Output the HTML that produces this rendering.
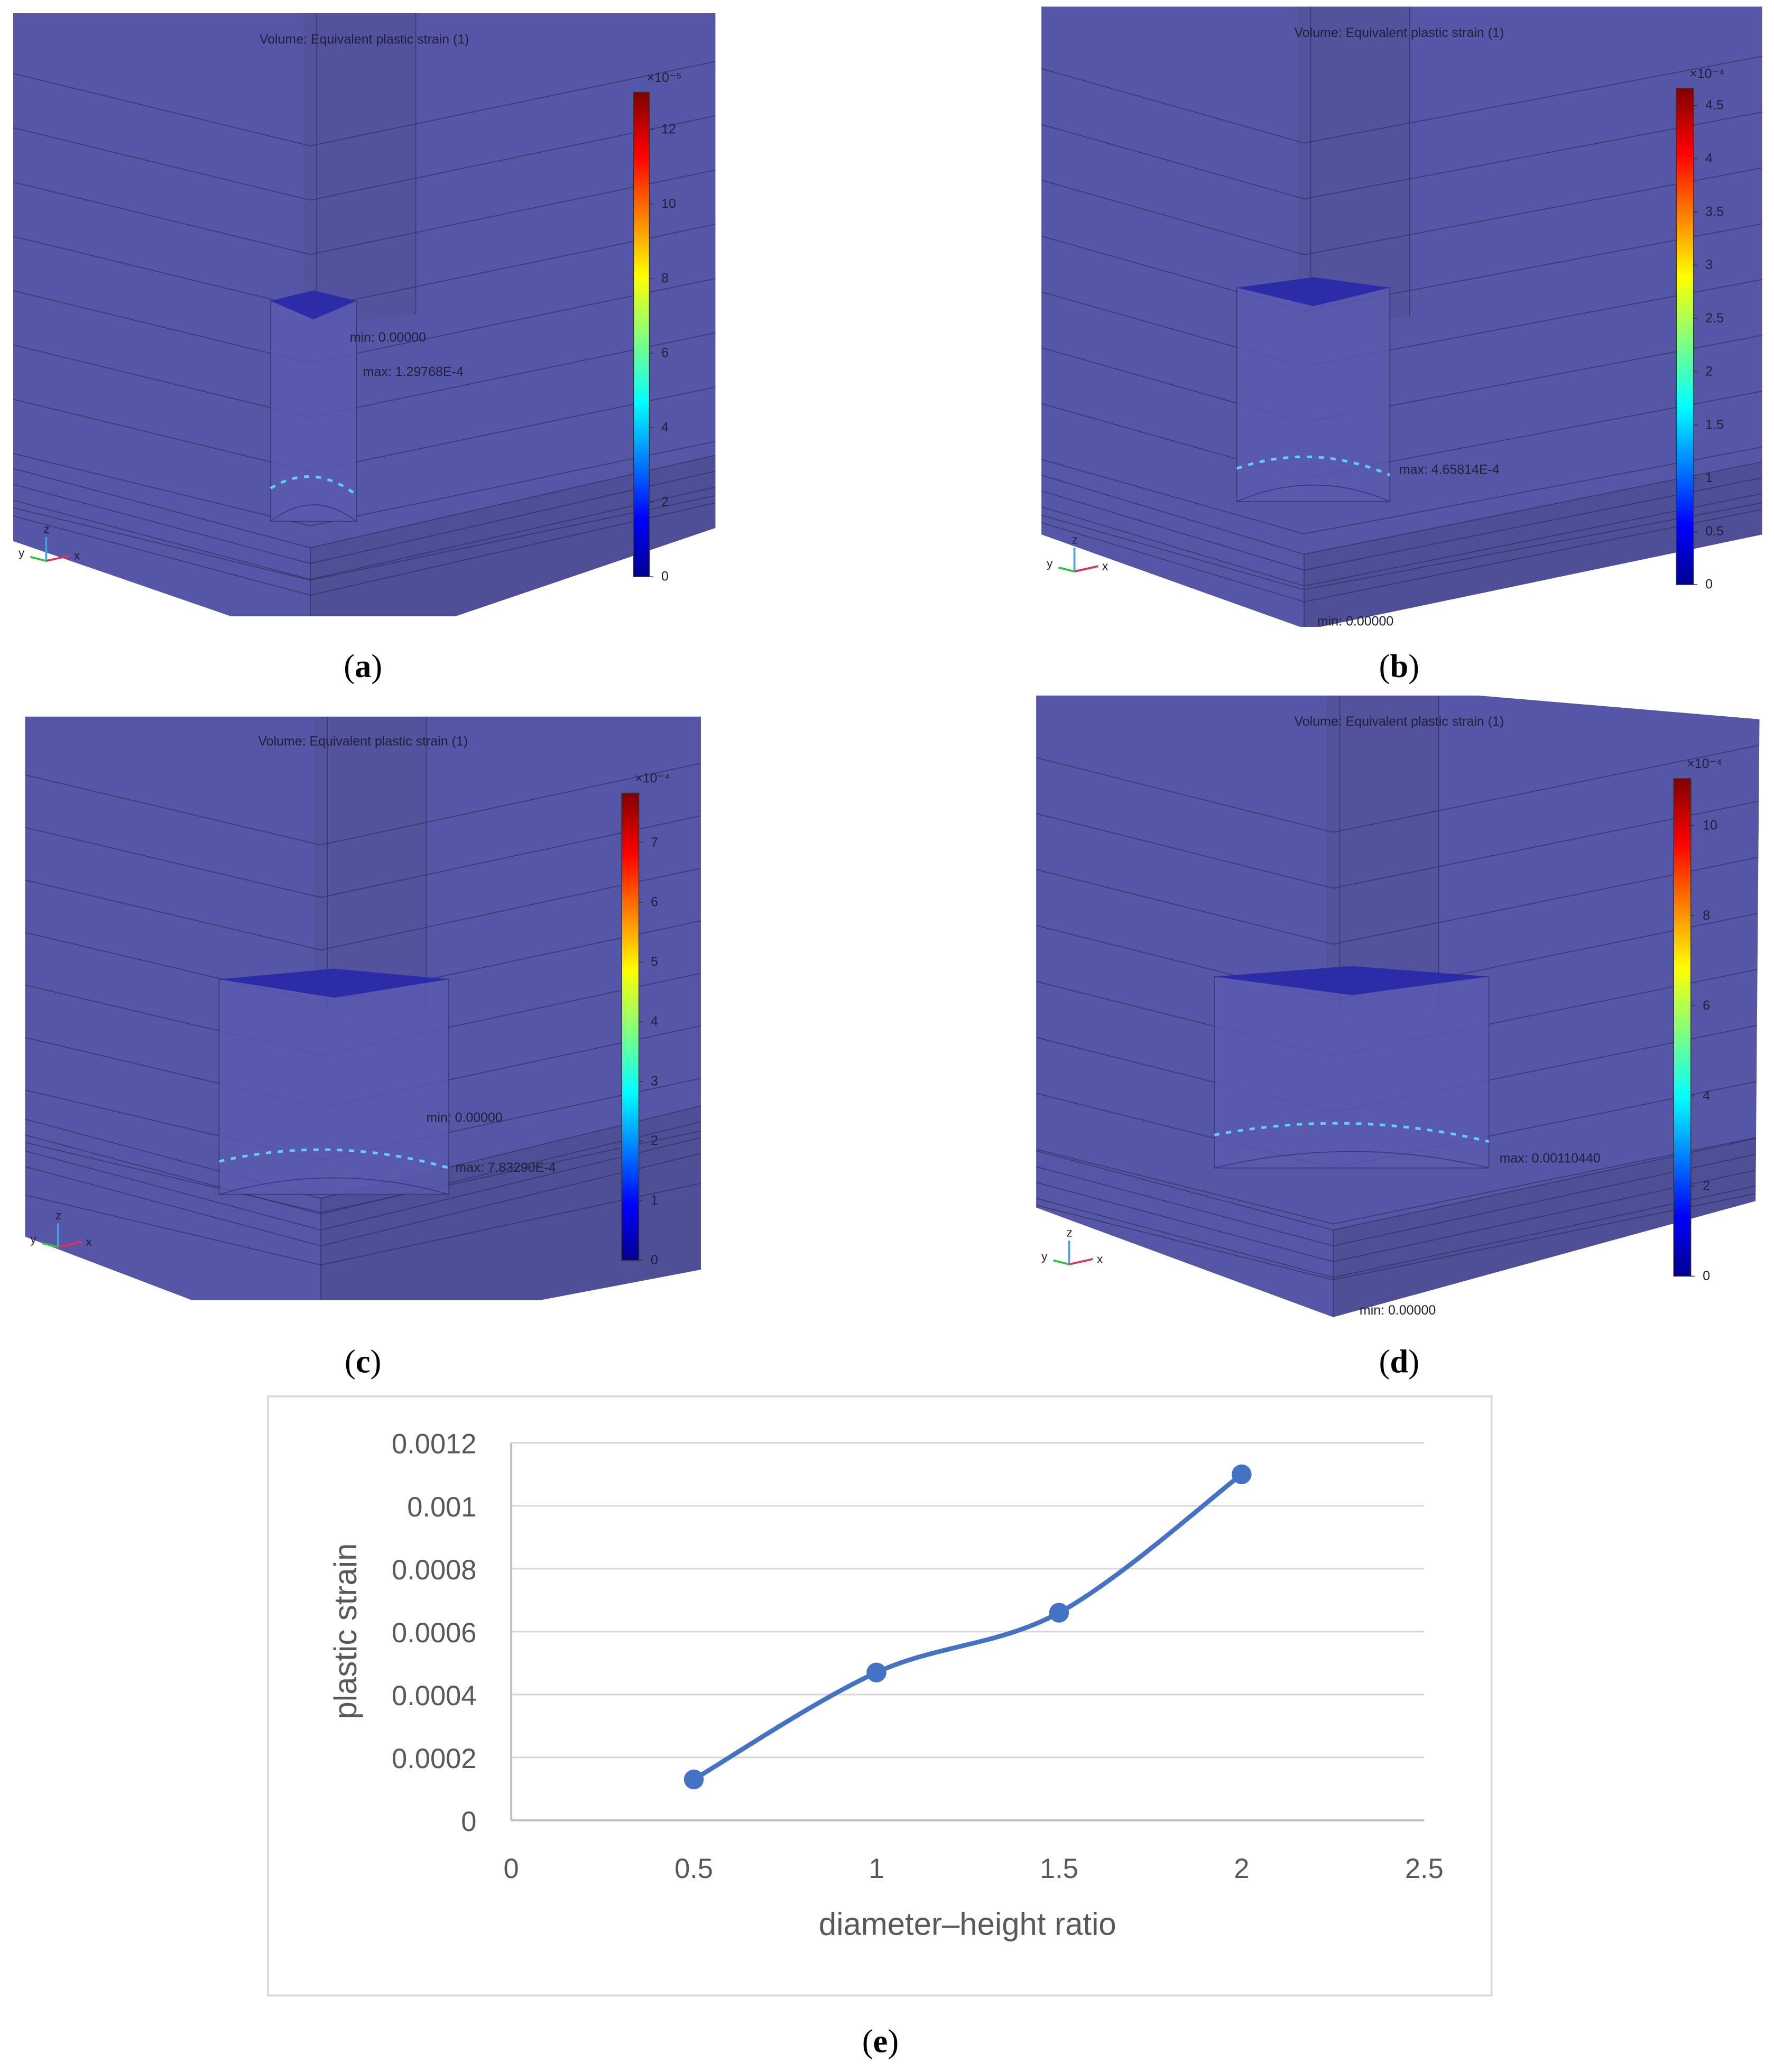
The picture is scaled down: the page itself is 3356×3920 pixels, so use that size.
<!DOCTYPE html>
<html><head><meta charset="utf-8"><style>
html,body{margin:0;padding:0;background:#fff}
svg{display:block}
text{font-family:"Liberation Sans",sans-serif}
text.serif{font-family:"Liberation Serif",serif}
</style></head><body>
<svg id="root" width="3356" height="3920" viewBox="0 0 1344 1570" preserveAspectRatio="none" xmlns="http://www.w3.org/2000/svg">
<defs>
<linearGradient id="jet" x1="0" y1="1" x2="0" y2="0">
<stop offset="0" stop-color="#00008f"/><stop offset="0.12" stop-color="#0000ff"/><stop offset="0.36" stop-color="#00ffff"/><stop offset="0.62" stop-color="#ffff00"/><stop offset="0.87" stop-color="#ff0000"/><stop offset="1" stop-color="#800000"/>
</linearGradient>
</defs>
<g id="panels"></g>
<g id="chart"></g>
</svg>
<script>
var NS='http://www.w3.org/2000/svg';
function mk(tag,attrs,parent,txt){var e=document.createElementNS(NS,tag);for(var k in attrs)e.setAttribute(k,attrs[k]);if(txt!==undefined)e.textContent=txt;parent.appendChild(e);return e;}
var P=document.getElementById('panels');
var panels=[
 {id:'a',x0:10,y0:10,x1:542,y1:467,poly:'10,10 542,10 542,400 345,467 175,467 10,410',corner:[235,415],cb:[480,70,492,437],ticks:['0','2','4','6','8','10','12'],tmax:13,exp:'×10⁻⁵',lab:[275,505],title:[276,30],cyl:[205,228,270,395],mx:'max: 1.29768E-4',mxp:[275,285],mn:'min: 0.00000',mnp:[265,259]},
 {id:'b',x0:789,y0:5,x1:1335,y1:475,poly:'789,5 1335,5 1335,405 1000,475 985,475 789,405',corner:[988,420],cb:[1270,67,1283,443],ticks:['0','0.5','1','1.5','2','2.5','3','3.5','4','4.5'],tmax:4.66,exp:'×10⁻⁴',lab:[1060,505],title:[1060,25],cyl:[937,218,1053,380],mx:'max: 4.65814E-4',mxp:[1060,359],mn:'min: 0.00000',mnp:[998,474]},
 {id:'c',x0:19,y0:543,x1:531,y1:985,poly:'19,543 531,543 531,962 410,985 145,985 19,937',corner:[243,908],cb:[471,601,484,955],ticks:['0','1','2','3','4','5','6','7'],tmax:7.83,exp:'×10⁻⁴',lab:[275,1032],title:[275,562],cyl:[166,742,340,905],mx:'max: 7.83290E-4',mxp:[345,888],mn:'min: 0.00000',mnp:[323,850]},
 {id:'d',x0:785,y0:527,x1:1333,y1:998,poly:'785,527 1120,527 1333,545 1330,910 1010,998 785,915',corner:[1010,932],cb:[1268,590,1281,967],ticks:['0','2','4','6','8','10'],tmax:11.04,exp:'×10⁻⁴',lab:[1060,1032],title:[1060,547],cyl:[920,740,1128,885],mx:'max: 0.00110440',mxp:[1136,881],mn:'min: 0.00000',mnp:[1030,996]}
];
panels.forEach(function(p){
 var g=mk('g',{},P);
 
 
 var cid='clip'+p.id;
 var cp=mk('clipPath',{id:cid},g);mk('polygon',{points:p.poly},cp);
 mk('polygon',{points:p.poly,fill:'#5656a6'},g);
 var gg=mk('g',{'clip-path':'url(#'+cid+')',stroke:'#2e2e60','stroke-width':'0.7','stroke-opacity':'0.7',fill:'none'},g);
 var w=p.x1-p.x0,h=p.y1-p.y0,cx=p.corner[0],cy=p.corner[1];
 mk('polygon',{points:cx+','+cy+' '+p.x1+','+(cy-70)+' '+p.x1+','+p.y1+' '+cx+','+p.y1,fill:'#4f4f98',stroke:'none'},gg);
 mk('polygon',{points:(cx-5)+','+p.y0+' '+(cx+80)+','+p.y0+' '+(cx+80)+','+(p.y0+h*0.5)+' '+(cx-5)+','+(p.y0+h*0.52),fill:'#53539d',stroke:'none'},gg);
 for(var i=0;i<9;i++){var yy=p.y0+h*(0.1+i*0.09);
  mk('line',{x1:p.x0,y1:yy,x2:cx,y2:yy+h*0.12},gg);
  mk('line',{x1:cx,y1:yy+h*0.12,x2:p.x1,y2:yy-h*0.02},gg);}
 for(var j=0;j<4;j++){var y2=cy+j*12;mk('line',{x1:cx,y1:y2,x2:p.x1,y2:y2-70},gg);mk('line',{x1:p.x0,y1:y2-60,x2:cx,y2:y2},gg);}
 mk('line',{x1:cx,y1:cy,x2:cx,y2:p.y1},gg);
 mk('line',{x1:cx+5,y1:p.y0,x2:cx+5,y2:p.y0+h*0.5},gg);
 mk('line',{x1:cx+80,y1:p.y0,x2:cx+80,y2:p.y0+h*0.5},gg);
 var c=p.cyl;
 mk('rect',{x:c[0],y:c[1],width:c[2]-c[0],height:c[3]-c[1],fill:'#5a5ab0','fill-opacity':'0.8'},gg);
 var mid=(c[0]+c[2])/2;
 mk('polygon',{points:c[0]+','+c[1]+' '+mid+','+(c[1]-8)+' '+c[2]+','+c[1]+' '+mid+','+(c[1]+14),fill:'#2c2ca8',stroke:'none'},gg);
 mk('path',{d:'M'+c[0]+','+(c[3]-25)+' Q'+mid+','+(c[3]-45)+' '+c[2]+','+(c[3]-20),stroke:'#60d0f0','stroke-width':'2','stroke-dasharray':'4 5','stroke-opacity':'1'},gg);
 mk('path',{d:'M'+c[0]+','+(c[3])+' Q'+mid+','+(c[3]-25)+' '+c[2]+','+(c[3])},gg);
 var t=mk('text',{x:p.title[0],y:p.title[1]+3,'font-size':'10','text-anchor':'middle',fill:'#20203a'},g,'Volume: Equivalent plastic strain (1)');
 
 
 var t1=mk('text',{x:p.mxp[0],y:p.mxp[1],'font-size':'10',fill:'#20203a'},g,p.mx);
 
 
 var t2=mk('text',{x:p.mnp[0],y:p.mnp[1],'font-size':'10',fill:'#20203a'},g,p.mn);
 
 
 var ax=p.x0+25,ay=p.y1-(p.id=='a'?42:p.id=='b'?42:40);
 mk('line',{x1:ax,y1:ay,x2:ax,y2:ay-18,stroke:'#4aa0e0','stroke-width':'1.5'},g);
 mk('line',{x1:ax,y1:ay,x2:ax+18,y2:ay-4,stroke:'#e03060','stroke-width':'1.5'},g);
 mk('line',{x1:ax,y1:ay,x2:ax-12,y2:ay-3,stroke:'#30c040','stroke-width':'1.5'},g);
 mk('text',{x:ax-2,y:ay-21,'font-size':'9',fill:'#20203a'},g,'z');
 mk('text',{x:ax+21,y:ay-1,'font-size':'9',fill:'#20203a'},g,'x');
 mk('text',{x:ax-21,y:ay-3,'font-size':'9',fill:'#20203a'},g,'y');
 var b=p.cb;
 var cb=mk('rect',{x:b[0],y:b[1],width:b[2]-b[0],height:b[3]-b[1],fill:'url(#jet)',stroke:'#333','stroke-width':'0.6'},g);
 
 
 mk('text',{x:b[0]+10,y:b[1]-8,'font-size':'10',fill:'#20203a'},g,p.exp);
 p.ticks.forEach(function(tk){var v=parseFloat(tk);var y=b[3]-(b[3]-b[1])*v/p.tmax;
  mk('line',{x1:b[2],y1:y,x2:b[2]+3,y2:y,stroke:'#333','stroke-width':'0.6'},g);
  mk('text',{x:b[2]+9,y:y+3,'font-size':'10',fill:'#20203a'},g,tk);});
 var l=mk('text',{x:p.lab[0],y:p.lab[1]+8,'font-size':'25','text-anchor':'middle',fill:'#000','class':'serif'},g,'');
 
 
 mk('tspan',{},l,'(');mk('tspan',{'font-weight':'bold'},l,p.id);mk('tspan',{},l,')');
});

// ---- chart (e) ----
var xCategories=[0.5,1,1.5,2];
var strainValues=[0.00013,0.00047,0.00066,0.0011];
var yTickLabels=['0','0.0002','0.0004','0.0006','0.0008','0.001','0.0012'];
var xTickLabels=['0','0.5','1','1.5','2','2.5'];
var C=document.getElementById('chart');
var box=mk('rect',{x:203,y:1058,width:927,height:454,fill:'#fff',stroke:'#d9d9d9','stroke-width':'1.5'},C);


var X0=387.3,X1=1079,Y0=1379.3,Y1=1093.3,XMAX=2.5,YMAX=0.0012;
function xs(v){return X0+(X1-X0)*v/XMAX;}
function ys(v){return Y0-(Y0-Y1)*v/YMAX;}
yTickLabels.forEach(function(s){var v=parseFloat(s),y=ys(v);
 if(v>0){var gl=mk('line',{x1:X0,y1:y,x2:X1,y2:y,stroke:'#d9d9d9','stroke-width':'1.3'},C);
 
 }
 var t=mk('text',{x:361,y:y+8,'font-size':'21','text-anchor':'end',fill:'#595959'},C,s);
 
 });
xTickLabels.forEach(function(s){var v=parseFloat(s);
 var t=mk('text',{x:xs(v),y:1423,'font-size':'21','text-anchor':'middle',fill:'#595959'},C,s);
 
 });
var ya=mk('line',{x1:X0,y1:Y1,x2:X0,y2:Y0,stroke:'#bfbfbf','stroke-width':'1.5'},C);


var xa=mk('line',{x1:X0,y1:Y0,x2:X1,y2:Y0,stroke:'#bfbfbf','stroke-width':'1.5'},C);


var xt=mk('text',{x:733,y:1466,'font-size':'24','text-anchor':'middle',fill:'#595959'},C,'diameter–height ratio');


var yt=mk('text',{x:0,y:0,'font-size':'24','text-anchor':'middle',fill:'#595959',transform:'translate(270,1236) rotate(-90)'},C,'plastic strain');


var pts=xCategories.map(function(x,i){return [xs(x),ys(strainValues[i])];});
var d='M'+pts[0][0]+','+pts[0][1];
for(var i=0;i<pts.length-1;i++){var p0=pts[i-1]||pts[i],p1=pts[i],p2=pts[i+1],p3=pts[i+2]||p2;
 var c1x=p1[0]+(p2[0]-p0[0])/6,c1y=p1[1]+(p2[1]-p0[1])/6,c2x=p2[0]-(p3[0]-p1[0])/6,c2y=p2[1]-(p3[1]-p1[1])/6;
 d+=' C'+c1x+','+c1y+' '+c2x+','+c2y+' '+p2[0]+','+p2[1];}
var ln=mk('path',{d:d,fill:'none',stroke:'#4472c4','stroke-width':'3.5','stroke-linecap':'round'},C);


pts.forEach(function(p){var m=mk('circle',{cx:p[0],cy:p[1],r:7.5,fill:'#4472c4'},C);
 
 });
var le=mk('text',{x:667,y:1555,'font-size':'25','text-anchor':'middle',fill:'#000','class':'serif'},C,'');


mk('tspan',{},le,'(');mk('tspan',{'font-weight':'bold'},le,'e');mk('tspan',{},le,')');
</script>
</body></html>
